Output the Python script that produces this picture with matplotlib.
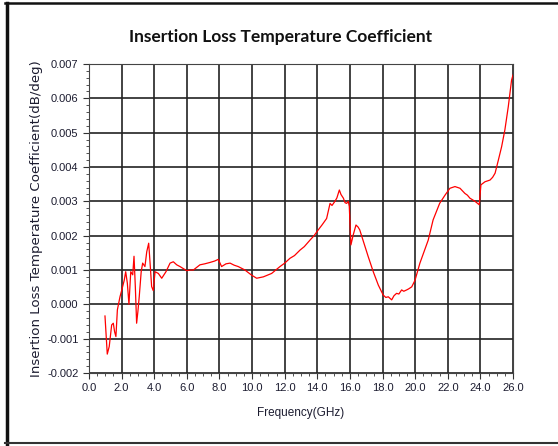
import numpy as np
import matplotlib.pyplot as plt
from matplotlib.lines import Line2D
from matplotlib.ticker import MultipleLocator, FormatStrFormatter

# waarden
freq = [0.98, 1.12, 1.24, 1.39, 1.49, 1.57, 1.65, 1.74, 1.9, 2.0, 2.16, 2.25, 2.35,
        2.45, 2.56, 2.68, 2.76, 2.84, 2.92, 3.0, 3.08, 3.2, 3.29, 3.43, 3.54, 3.66,
        3.74, 3.84, 3.94, 4.05, 4.25, 4.46, 4.72, 4.97, 5.17, 5.38, 5.58, 5.99, 6.19,
        6.4, 6.8, 7.1, 7.42, 7.7, 7.93, 8.13, 8.4, 8.65, 8.9, 9.15, 9.56, 9.97, 10.28,
        10.69, 11.2, 11.71, 12.0, 12.32, 12.6, 12.94, 13.2, 13.55, 13.8, 14.06, 14.3,
        14.57, 14.78, 14.9, 15.08, 15.2, 15.35, 15.45, 15.6, 15.7, 15.8, 15.9, 15.96,
        16.0, 16.06, 16.2, 16.37, 16.5, 16.6, 16.8, 17.12, 17.43, 17.74, 18.04, 18.2,
        18.35, 18.56, 18.7, 18.86, 19.0, 19.17, 19.3, 19.48, 19.6, 19.79, 19.99, 20.29,
        20.8, 21.1, 21.5, 21.83, 22.13, 22.44, 22.75, 23.05, 23.2, 23.36, 23.5, 23.67,
        23.93, 24.03, 24.28, 24.59, 24.75, 24.9, 25.1, 25.3, 25.5, 25.71, 25.91, 26.0]
coef = [-0.00034, -0.00145, -0.00123, -0.0006, -0.00055, -0.0008, -0.00094, -0.00016,
        0.00022, 0.0004, 0.0007, 0.00095, 0.00062, 0.0, 0.00095, 0.00086, 0.0014,
        0.00052, -0.00055, -0.0002, 0.00022, 0.00095, 0.0012, 0.0011, 0.00153, 0.00178,
        0.00124, 0.00052, 0.0004, 0.00095, 0.0009, 0.00076, 0.00095, 0.0012, 0.00124,
        0.00115, 0.0011, 0.00098, 0.001, 0.001, 0.00115, 0.00118, 0.00122, 0.00126,
        0.00131, 0.0011, 0.00118, 0.0012, 0.00114, 0.0011, 0.001, 0.00085, 0.00076,
        0.0008, 0.0009, 0.0011, 0.0012, 0.00134, 0.00142, 0.00158, 0.00168, 0.00187,
        0.002, 0.00217, 0.00232, 0.0025, 0.00294, 0.00288, 0.003, 0.0031, 0.00333,
        0.0032, 0.00309, 0.00296, 0.00294, 0.003, 0.00285, 0.0024, 0.00173, 0.00202,
        0.00231, 0.00225, 0.00217, 0.00187, 0.00139, 0.00095, 0.00056, 0.00027, 0.0002,
        0.00022, 0.00013, 0.00025, 0.00032, 0.0003, 0.00042, 0.00038, 0.00042, 0.00045,
        0.00051, 0.0007, 0.0012, 0.00187, 0.00246, 0.00294, 0.00318, 0.00338, 0.00343,
        0.00338, 0.00323, 0.00318, 0.00309, 0.00305, 0.003, 0.0029, 0.00348, 0.00357,
        0.00362, 0.0037, 0.00382, 0.0042, 0.00459, 0.00508, 0.00576, 0.00653, 0.00668]

fig = plt.figure(figsize=(5.58, 4.46), dpi=100)
ax = fig.add_axes([0.1595, 0.1637, 0.7599, 0.6928])

ax.plot(freq, coef, color='#ff0000', lw=0.9)

ax.set_xlim(0, 26)
ax.set_ylim(-0.002, 0.007)
ax.xaxis.set_major_locator(MultipleLocator(2))
ax.xaxis.set_minor_locator(MultipleLocator(0.5))
ax.yaxis.set_major_locator(MultipleLocator(0.001))
ax.yaxis.set_minor_locator(MultipleLocator(0.0002))
ax.xaxis.set_major_formatter(FormatStrFormatter('%.1f'))
ax.yaxis.set_major_formatter(FormatStrFormatter('%.3f'))
ax.grid(True, which='major', color='#222222', lw=1.2)
ax.tick_params(which='both', direction='out', colors='#333333', labelcolor='#1c1c30',
               labelsize=8, labelfontfamily='Liberation Sans')
ax.tick_params(which='major', length=4)
ax.tick_params(which='minor', length=2.5)
for s in ax.spines.values():
    s.set_color('#444444')

ax.set_xlabel('Frequency(GHz)', fontsize=8.5, family='Liberation Sans', color='#1c1c30', labelpad=10)
ax.set_ylabel('Insertion Loss Temperature Coefficient(dB/deg)', fontsize=9.6, color='#1c1c30', labelpad=3)
fig.text(0.502, 0.918, 'Insertion Loss Temperature Coefficient', ha='center', va='center',
         fontsize=12.5, fontweight='bold', family='Lato', color='#111111')

# rand rond de figuur
fig.add_artist(Line2D([6.5 / 558, 6.5 / 558], [0, 1 - 3 / 446], color='#111111', lw=2.5))
fig.add_artist(Line2D([5 / 558, 1], [1 - 3 / 446, 1 - 3 / 446], color='#111111', lw=1.8))
fig.add_artist(Line2D([5 / 558, 1], [3 / 446, 3 / 446], color='#333333', lw=1.5))

fig.savefig('out.png', dpi=100)
